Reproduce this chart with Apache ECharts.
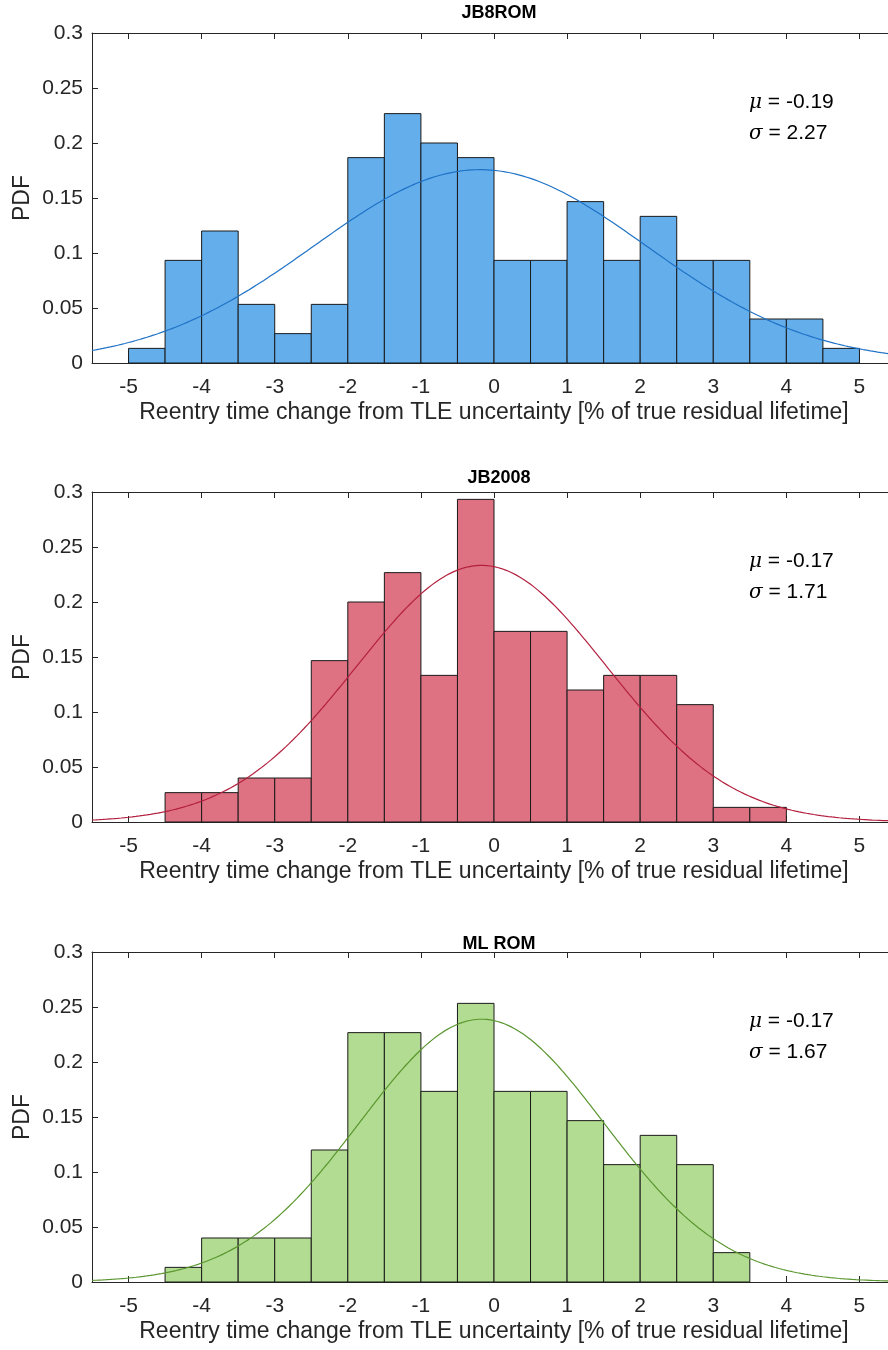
<!DOCTYPE html>
<html>
<head>
<meta charset="utf-8">
<title>Reentry time change histograms</title>
<script src="https://cdn.jsdelivr.net/npm/echarts@6/dist/echarts.min.js"></script>
<style>
  html, body { margin: 0; padding: 0; background: #fff; }
  #chart { width: 888px; height: 1350px; }
</style>
</head>
<body>
<div id="chart"></div>
<script>
// Histogram bins (width 0.5) for each propagation model
const binEdgesStart = [-5, -4.5, -4, -3.5, -3, -2.5, -2, -1.5, -1, -0.5, 0, 0.5, 1, 1.5, 2, 2.5, 3, 3.5, 4, 4.5];
const binWidth = 0.5;

const modelNames = ['JB8ROM', 'JB2008', 'ML ROM'];

// PDF values per bin (0 where the bin is empty)
const pdfJB8ROM = [0.0133, 0.0933, 0.12, 0.0533, 0.0267, 0.0533, 0.1867, 0.2267, 0.2, 0.1867,
                   0.0933, 0.0933, 0.1467, 0.0933, 0.1333, 0.0933, 0.0933, 0.04, 0.04, 0.0133];
const pdfJB2008 = [0, 0.0267, 0.0267, 0.04, 0.04, 0.1467, 0.2, 0.2267, 0.1333, 0.2933,
                   0.1733, 0.1733, 0.12, 0.1333, 0.1333, 0.1067, 0.0133, 0.0133, 0, 0];
const pdfMLROM  = [0, 0.0133, 0.04, 0.04, 0.04, 0.12, 0.2267, 0.2267, 0.1733, 0.2533,
                   0.1733, 0.1733, 0.1467, 0.1067, 0.1333, 0.1067, 0.0267, 0, 0, 0];

// Fitted normal parameters
const fitMu    = [-0.19, -0.17, -0.17];
const fitSigma = [2.27, 1.71, 1.67];

// Axis ticks
const xTickValues = [-5, -4, -3, -2, -1, 0, 1, 2, 3, 4, 5];
const xRange = [-5.5, 5.5];
const yRange = [0, 0.3];
const yStep = 0.05;

const xAxisTitle = 'Reentry time change from TLE uncertainty [% of true residual lifetime]';
const yAxisTitle = 'PDF';

const barFills    = ['#63aeeb', '#de7182', '#b2dc91'];
const curveColors = ['#1f72c6', '#b3213f', '#5a962f'];
const gridTops   = [33, 492, 952];
const titleMidY  = [9, 474, 940];
const plotHeight = 330;
const plotLeft = 92;
const plotWidth = 804;

const pdfSets = [pdfJB8ROM, pdfJB2008, pdfMLROM];

const FONT = '"Liberation Sans", Arial, sans-serif';
const INK = '#262626';

function normalCurve(mu, sigma) {
  const pts = [];
  const n = 441;
  for (let i = 0; i < n; i++) {
    const x = xRange[0] + (xRange[1] - xRange[0]) * i / (n - 1);
    const z = (x - mu) / sigma;
    pts.push([x, Math.exp(-0.5 * z * z) / (sigma * Math.sqrt(2 * Math.PI))]);
  }
  return pts;
}

const grids = [], xAxes = [], yAxes = [], series = [], titles = [], graphics = [];

modelNames.forEach((name, k) => {
  grids.push({
    left: plotLeft, top: gridTops[k], width: plotWidth, height: plotHeight,
    containLabel: false, outerBoundsMode: 'none'
  });

  // bottom axis with labels
  xAxes.push({
    type: 'value', gridIndex: k, min: xRange[0], max: xRange[1], position: 'bottom',
    name: xAxisTitle, nameLocation: 'middle', nameGap: 38,
    nameTextStyle: { fontFamily: FONT, fontSize: 23, color: INK },
    axisLine: { show: true, onZero: false, lineStyle: { color: INK, width: 1 } },
    axisTick: { show: true, inside: true, length: 6, customValues: xTickValues, lineStyle: { color: INK } },
    axisLabel: { customValues: xTickValues, margin: 14, fontFamily: FONT, fontSize: 21, color: INK },
    splitLine: { show: false }
  });
  // top box edge with inward ticks
  xAxes.push({
    type: 'value', gridIndex: k, min: xRange[0], max: xRange[1], position: 'top',
    axisLine: { show: true, onZero: false, lineStyle: { color: INK, width: 1 } },
    axisTick: { show: true, inside: true, length: 6, customValues: xTickValues, lineStyle: { color: INK } },
    axisLabel: { show: false },
    splitLine: { show: false }
  });
  yAxes.push({
    type: 'value', gridIndex: k, min: yRange[0], max: yRange[1], interval: yStep, position: 'left',
    name: yAxisTitle, nameLocation: 'middle', nameGap: 58, nameRotate: 90, nameMoveOverlap: false,
    nameTextStyle: { fontFamily: FONT, fontSize: 23, color: INK },
    axisLine: { show: true, onZero: false, lineStyle: { color: INK, width: 1 } },
    axisTick: { show: true, inside: true, length: 6, lineStyle: { color: INK } },
    axisLabel: { margin: 9, fontFamily: FONT, fontSize: 21, color: INK },
    splitLine: { show: false }
  });
  yAxes.push({
    type: 'value', gridIndex: k, min: yRange[0], max: yRange[1], interval: yStep, position: 'right',
    axisLine: { show: true, onZero: false, lineStyle: { color: INK, width: 1 } },
    axisTick: { show: true, inside: true, length: 6, lineStyle: { color: INK } },
    axisLabel: { show: false },
    splitLine: { show: false }
  });

  const binData = binEdgesStart
    .map((x0, i) => [x0, x0 + binWidth, pdfSets[k][i]])
    .filter(d => d[2] > 0);

  series.push({
    type: 'custom', name: name, xAxisIndex: 2 * k, yAxisIndex: 2 * k,
    data: binData, z: 2,
    renderItem: (params, api) => {
      const p0 = api.coord([api.value(0), api.value(2)]);
      const p1 = api.coord([api.value(1), 0]);
      return {
        type: 'rect',
        shape: { x: p0[0], y: p0[1], width: p1[0] - p0[0], height: p1[1] - p0[1] },
        style: { fill: barFills[k], stroke: '#1a1a1a', lineWidth: 1 }
      };
    }
  });

  series.push({
    type: 'line', xAxisIndex: 2 * k, yAxisIndex: 2 * k,
    data: normalCurve(fitMu[k], fitSigma[k]),
    showSymbol: false, smooth: false, z: 3, silent: true,
    lineStyle: { color: curveColors[k], width: 1.2 }
  });

  titles.push({
    text: name, left: plotLeft + plotWidth / 2, textAlign: 'center', top: titleMidY[k] - 10,
    textStyle: { fontFamily: FONT, fontSize: 18, fontWeight: 'bold', color: '#000' }
  });

  graphics.push({
    type: 'text', left: 749, top: gridTops[k] + 54,
    style: {
      text: '{g|\u03bc} = ' + fitMu[k].toFixed(2) + '\n{g|\u03c3} = ' + fitSigma[k].toFixed(2),
      fontFamily: FONT, fontSize: 21, fill: '#000', lineHeight: 31,
      rich: { g: { fontFamily: '"DejaVu Serif", serif', fontStyle: 'italic', fontSize: 20, fill: '#000' } }
    }
  });
});

const chart = echarts.init(document.getElementById('chart'), null, { renderer: 'canvas' });
chart.setOption({
  backgroundColor: '#ffffff',
  animation: false,
  title: titles,
  grid: grids,
  xAxis: xAxes,
  yAxis: yAxes,
  series: series,
  graphic: graphics
});
</script>
</body>
</html>
